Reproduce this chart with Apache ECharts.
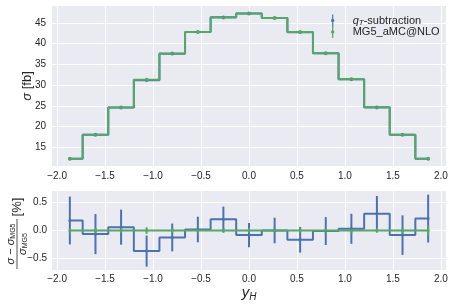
<!DOCTYPE html>
<html><head><meta charset="utf-8">
<script src="https://cdn.jsdelivr.net/npm/echarts@6/dist/echarts.min.js"></script>
<style>html,body{margin:0;padding:0;background:#fff}#c{width:454px;height:307px}</style>
</head><body><div id="c"></div>
<script>
// ---- data ----
const binCenters = [-1.867, -1.6, -1.333, -1.067, -0.8, -0.533, -0.267, 0.0, 0.267, 0.533, 0.8, 1.067, 1.333, 1.6, 1.867];
const mg5Xsec   = [12.2, 18.0, 24.6, 31.3, 37.6, 42.8, 46.3, 47.3, 46.2, 42.8, 37.7, 31.4, 24.6, 18.0, 12.2];
const qtXsec    = [12.22, 17.99, 24.61, 31.19, 37.55, 42.81, 46.39, 47.26, 46.2, 42.73, 37.7, 31.41, 24.67, 17.99, 12.23];
const qtRelDiff = [0.18, -0.065, 0.06, -0.37, -0.125, 0.018, 0.20, -0.083, 0.0, -0.167, -0.01, 0.03, 0.30, -0.083, 0.214];
const qtRelErr  = [0.43, 0.36, 0.315, 0.28, 0.25, 0.23, 0.23, 0.22, 0.23, 0.23, 0.25, 0.27, 0.32, 0.355, 0.43];
const mg5RelErr = [0.04, 0.04, 0.04, 0.06, 0.04, 0.04, 0.04, 0.04, 0.04, 0.04, 0.04, 0.04, 0.04, 0.05, 0.09];
const xTicks = [-2.0, -1.5, -1.0, -0.5, 0.0, 0.5, 1.0, 1.5, 2.0];
const yTicksTop = [15, 20, 25, 30, 35, 40, 45];
const yTicksBottom = [-0.5, 0.0, 0.5];

const BLUE = '#4C72B0', GREEN = '#55A868', TXT = '#262626', FONT = 'Liberation Sans';
const fmt = v => (Number.isInteger(v) && Math.abs(v) >= 10) ? String(v) : v.toFixed(1).replace('-', '\u2212');

const topMG5 = binCenters.map((x, i) => [x, mg5Xsec[i]]);
const topQT = binCenters.map((x, i) => [x, qtXsec[i]]);
const topMG5Err = binCenters.map((x, i) => [x, mg5Xsec[i], mg5Xsec[i] * mg5RelErr[i] / 100]);
const topQTErr = binCenters.map((x, i) => [x, qtXsec[i], qtXsec[i] * qtRelErr[i] / 100]);
const botQT = binCenters.map((x, i) => [x, qtRelDiff[i]]);
const botQTErr = binCenters.map((x, i) => [x, qtRelDiff[i], qtRelErr[i]]);
const botMG5 = binCenters.map(x => [x, 0]);
const botMG5Err = binCenters.map((x, i) => [x, 0, mg5RelErr[i]]);

function errRender(color, r) {
  return function (params, api) {
    const x = api.value(0), y = api.value(1), e = api.value(2);
    const p1 = api.coord([x, y + e]), p2 = api.coord([x, y - e]), c = api.coord([x, y]);
    return { type: 'group', children: [
      { type: 'line', shape: { x1: p1[0], y1: p1[1], x2: p2[0], y2: p2[1] }, style: { stroke: color, lineWidth: 2 } },
      { type: 'circle', shape: { cx: c[0], cy: c[1], r: r }, style: { fill: color } }
    ]};
  };
}

const xAxisBase = (gi, margin) => ({
  type: 'value', gridIndex: gi, min: -2.053, max: 2.053,
  axisLine: { show: false },
  axisTick: { show: false, customValues: xTicks },
  axisLabel: { customValues: xTicks, formatter: fmt, color: TXT, fontSize: 10, fontFamily: FONT, margin: margin },
  splitLine: { show: true, lineStyle: { color: '#ffffff', width: 1 } }
});

const ICON = 'path://M0.9,0 L2.1,0 L2.1,12 L0.9,12 Z M1.5,4.3 A1.7,1.7 0 1 1 1.5,7.7 A1.7,1.7 0 1 1 1.5,4.3 Z';

const chart = echarts.init(document.getElementById('c'), null, { renderer: 'canvas' });
chart.setOption({
  animation: false,
  backgroundColor: '#ffffff',
  textStyle: { fontFamily: FONT },
  grid: [
    { left: 52, top: 6, width: 394, height: 160, show: true, backgroundColor: '#EAEAF2', borderWidth: 0 },
    { left: 52, top: 191, width: 394, height: 79, show: true, backgroundColor: '#EAEAF2', borderWidth: 0 }
  ],
  xAxis: [
    xAxisBase(0, 5),
    Object.assign(xAxisBase(1, 4), {
      name: '{y|y}{h|H}', nameLocation: 'middle', nameGap: 14, nameMoveOverlap: false,
      nameTextStyle: { rich: {
        y: { fontSize: 15, fontStyle: 'italic', color: TXT, fontFamily: FONT, lineHeight: 18, verticalAlign: 'middle' },
        h: { fontSize: 10, fontStyle: 'italic', color: TXT, fontFamily: FONT, lineHeight: 18, verticalAlign: 'bottom' }
      } }
    })
  ],
  yAxis: [
    { type: 'value', gridIndex: 0, min: 10.45, max: 49.1,
      axisLine: { show: false }, axisTick: { show: false, customValues: yTicksTop },
      axisLabel: { customValues: yTicksTop, color: TXT, fontSize: 10, fontFamily: FONT, margin: 6 },
      splitLine: { show: true, lineStyle: { color: '#ffffff', width: 1 } },
      name: '{s|σ} [fb]', nameLocation: 'middle', nameGap: 18, nameRotate: 90, nameMoveOverlap: false,
      nameTextStyle: { fontSize: 13, color: TXT, fontFamily: FONT, rich: {
        s: { fontSize: 13, fontStyle: 'italic', color: TXT, fontFamily: FONT } } }
    },
    { type: 'value', gridIndex: 1, min: -0.71, max: 0.71,
      axisLine: { show: false }, axisTick: { show: false, customValues: yTicksBottom },
      axisLabel: { customValues: yTicksBottom, formatter: fmt, color: TXT, fontSize: 10, fontFamily: FONT, margin: 5 },
      splitLine: { show: true, lineStyle: { color: '#ffffff', width: 1 } }
    }
  ],
  legend: {
    orient: 'vertical', left: 331, top: 14.5, padding: 0, itemGap: -1,
    itemWidth: 4, itemHeight: 12,
    data: [
      { name: 'qT-subtraction', icon: ICON },
      { name: 'MG5_aMC@NLO', icon: ICON }
    ],
    formatter: n => n === 'qT-subtraction' ? '{q|q}{t|T}{n|-subtraction}' : '{p|' + n + '}',
    textStyle: { color: TXT, fontSize: 11, fontFamily: FONT, rich: {
      q: { fontSize: 11, fontStyle: 'italic', color: TXT, fontFamily: FONT, lineHeight: 13, verticalAlign: 'middle', padding: [0, 0, 0, 13] },
      t: { fontSize: 8, fontStyle: 'italic', color: TXT, fontFamily: FONT, lineHeight: 13, verticalAlign: 'bottom' },
      n: { fontSize: 11, color: TXT, fontFamily: FONT, lineHeight: 13, verticalAlign: 'middle' },
      p: { fontSize: 11, color: TXT, fontFamily: FONT, lineHeight: 13, verticalAlign: 'middle', padding: [0, 0, 0, 13] }
    } }
  },
  graphic: [
    { type: 'group', x: 17, y: 244, rotation: Math.PI / 2, children: [
      { type: 'text', x: 0, y: -6, style: {
          text: '{i|σ} − {i|σ}{s|MG5}', align: 'center', verticalAlign: 'middle', fill: TXT,
          rich: { i: { fontSize: 11, fontStyle: 'italic', fontFamily: FONT, fill: TXT },
                  s: { fontSize: 7, fontFamily: FONT, fill: TXT, verticalAlign: 'bottom', lineHeight: 12 } },
          fontSize: 11, fontFamily: FONT } },
      { type: 'line', shape: { x1: -25, y1: 0, x2: 25, y2: 0 }, style: { stroke: TXT, lineWidth: 0.8 } },
      { type: 'text', x: 0, y: 5.5, style: {
          text: '{i|σ}{s|MG5}', align: 'center', verticalAlign: 'middle', fill: TXT,
          rich: { i: { fontSize: 11, fontStyle: 'italic', fontFamily: FONT, fill: TXT },
                  s: { fontSize: 7, fontFamily: FONT, fill: TXT, verticalAlign: 'bottom', lineHeight: 12 } },
          fontSize: 11, fontFamily: FONT } },
      { type: 'text', x: 37, y: 0, style: { text: '[%]', align: 'center', verticalAlign: 'middle', fill: TXT, fontSize: 13, fontFamily: FONT } }
    ] }
  ],
  series: [
    { name: 'qT-subtraction', type: 'line', xAxisIndex: 0, yAxisIndex: 0, step: 'middle', data: topQT,
      showSymbol: false, lineStyle: { color: BLUE, width: 2 }, itemStyle: { color: BLUE } },
    { name: 'qT-subtraction', type: 'custom', xAxisIndex: 0, yAxisIndex: 0, data: topQTErr,
      encode: { x: 0, y: 1 }, renderItem: errRender(BLUE, 1.5), itemStyle: { color: BLUE } },
    { name: 'MG5_aMC@NLO', type: 'line', xAxisIndex: 0, yAxisIndex: 0, step: 'middle', data: topMG5,
      showSymbol: false, lineStyle: { color: GREEN, width: 2 }, itemStyle: { color: GREEN } },
    { name: 'MG5_aMC@NLO', type: 'custom', xAxisIndex: 0, yAxisIndex: 0, data: topMG5Err,
      encode: { x: 0, y: 1 }, renderItem: errRender(GREEN, 2), itemStyle: { color: GREEN } },

    { name: 'qT-subtraction', type: 'line', xAxisIndex: 1, yAxisIndex: 1, step: 'middle', data: botQT,
      showSymbol: false, lineStyle: { color: BLUE, width: 2 }, itemStyle: { color: BLUE } },
    { name: 'qT-subtraction', type: 'custom', xAxisIndex: 1, yAxisIndex: 1, data: botQTErr,
      encode: { x: 0, y: 1 }, renderItem: errRender(BLUE, 1.5), itemStyle: { color: BLUE } },
    { name: 'MG5_aMC@NLO', type: 'line', xAxisIndex: 1, yAxisIndex: 1, step: 'middle', data: botMG5,
      showSymbol: false, lineStyle: { color: GREEN, width: 2 }, itemStyle: { color: GREEN } },
    { name: 'MG5_aMC@NLO', type: 'custom', xAxisIndex: 1, yAxisIndex: 1, data: botMG5Err,
      encode: { x: 0, y: 1 }, renderItem: errRender(GREEN, 1.5), itemStyle: { color: GREEN } }
  ]
});
</script></body></html>
